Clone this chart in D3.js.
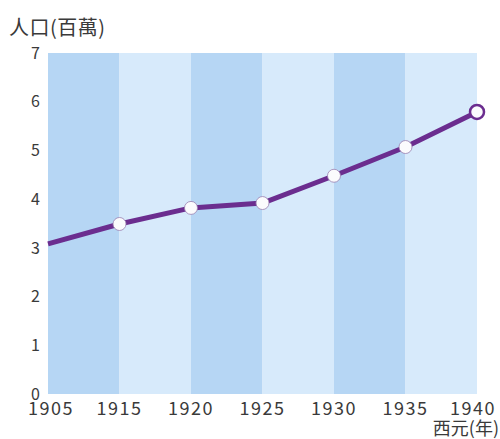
<!DOCTYPE html>
<html><head><meta charset="utf-8">
<script src="https://cdn.jsdelivr.net/npm/d3@7"></script>
<style>body{margin:0;background:#fff}text{font-family:"Noto Sans CJK TC","Liberation Sans",sans-serif;fill:#3a3a3a}</style>
</head><body><svg id="c" width="500" height="439"></svg>
<script>
const years = ["1905","1915","1920","1925","1930","1935","1940"];
const population = [3.08, 3.49, 3.82, 3.92, 4.48, 5.07, 5.79];
const yTicks = [0,1,2,3,4,5,6,7];
const bandColors = ["#b6d6f4","#d7eafb"];

const svg = d3.select("#c");
const m = {l:48, r:477, t:53, b:394};
const x = d3.scalePoint().domain(years).range([m.l, m.r]).padding(0);
const y = d3.scaleLinear().domain([0,7]).range([m.b, m.t]);

const bands = d3.pairs(years);
svg.append("g").selectAll("rect").data(bands).join("rect")
  .attr("x", d => x(d[0])).attr("y", m.t)
  .attr("width", d => x(d[1]) - x(d[0])).attr("height", m.b - m.t)
  .attr("fill", (d,i) => bandColors[i % 2]);

svg.append("g").selectAll("text").data(yTicks).join("text")
  .attr("x", 40).attr("y", d => y(d)).attr("dy", "0.36em")
  .attr("text-anchor", "end").attr("font-size", 16).text(d => d);

const n = years.length;
svg.append("g").selectAll("text").data(years).join("text")
  .attr("x", (d,i) => i === 0 ? 28 : i === n-1 ? 496 : x(d))
  .attr("y", 415)
  .attr("text-anchor", (d,i) => i === 0 ? "start" : i === n-1 ? "end" : "middle")
  .attr("font-size", 18).attr("letter-spacing", 1.5)
  .text(d => d);

const data = years.map((yr,i) => ({yr, v: population[i]}));
svg.append("path").datum(data)
  .attr("fill","none").attr("stroke","#6b2d8f").attr("stroke-width",5)
  .attr("stroke-linejoin","round")
  .attr("d", d3.line().x(d => x(d.yr)).y(d => y(d.v)));

svg.append("g").selectAll("circle").data(data.slice(1)).join("circle")
  .attr("cx", d => x(d.yr)).attr("cy", d => y(d.v))
  .attr("r", (d,i,arr) => i === arr.length-1 ? 7 : 6.5)
  .attr("fill", "#fbfbfd")
  .attr("stroke", (d,i,arr) => i === arr.length-1 ? "#6b2d8f" : "#9a80b0")
  .attr("stroke-width", (d,i,arr) => i === arr.length-1 ? 2.5 : 0.8);

svg.append("text").attr("x", 9).attr("y", 35).attr("font-size", 20).attr("letter-spacing", 0.5).text("人口(百萬)");
svg.append("text").attr("x", 499).attr("y", 435).attr("text-anchor","end").attr("font-size", 18).text("西元(年)");
</script></body></html>
